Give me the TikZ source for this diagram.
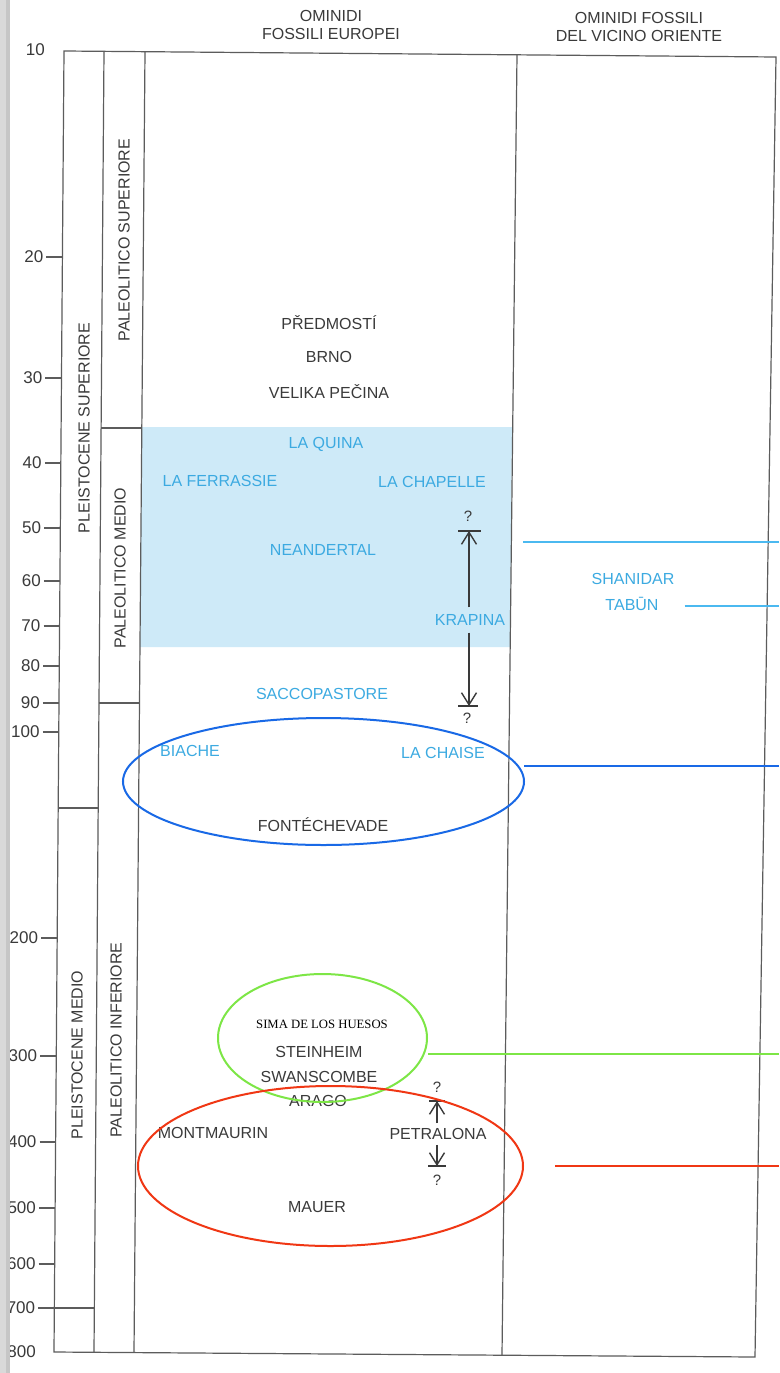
\documentclass[tikz,border=0pt]{standalone}
\usepackage{fontspec}
\setmainfont{Liberation Sans}
\newfontfamily\simafont{Liberation Serif}
\usetikzlibrary{arrows.meta,shapes.geometric}
\definecolor{frame}{HTML}{5C5C5C}
\definecolor{txt}{HTML}{3A3A3A}
\definecolor{bluetxt}{RGB}{60,170,225}
\definecolor{bandblue}{RGB}{206,234,248}
\definecolor{ovblue}{RGB}{25,105,230}
\definecolor{ovgreen}{RGB}{125,230,70}
\definecolor{ovred}{RGB}{240,55,20}
\definecolor{ltblue}{RGB}{75,185,240}
\begin{document}
\begin{tikzpicture}[x=1pt,y=-1pt,
  declare function={xa(\t)=64-10*(\t-50)/1302; xb(\t)=104-10*(\t-50)/1302;
                    xc(\t)=145-11*(\t-50)/1302; xd(\t)=517-15*(\t-50)/1302;},
  lbl/.style={text=txt,font=\fontsize{16}{18}\selectfont,inner sep=1pt},
  blbl/.style={text=bluetxt,font=\fontsize{16}{18}\selectfont,inner sep=1pt},
  numlbl/.style={text=txt,font=\fontsize{17}{17}\selectfont,inner sep=0pt,anchor=east},
  vert/.style={lbl,rotate=90},
  qm/.style={text=txt,font=\fontsize{15}{15}\selectfont,inner sep=0pt},
  fr/.style={draw=frame,line width=1.2pt},
  arr/.style={draw=txt,line width=1.4pt,-{Straight Barb[length=12pt,width=15pt,line width=1.4pt]}},
  barline/.style={draw=txt,line width=1.4pt},
  ov/.style={draw,ellipse,line width=2pt,inner sep=0pt},
  ovline/.style={line width=2pt}
]
\useasboundingbox (0,0) rectangle (779,1373);
\fill[white] (0,0) rectangle (779,1373);

% blue shaded band
\fill[bandblue] ({xc(427)},427) -- (512,427) -- (510,647) -- ({xc(647)},647) -- cycle;

% frame
\draw[fr] (64,51) -- (776,57) -- (755,1357) -- (54,1352) -- cycle;
\draw[fr] (104,51.3) -- (94,1352.3);
\draw[fr] (145,51.7) -- (134,1352.6);
\draw[fr] (517,54.8) -- (502,1355.2);

% column dividers
\draw[fr] ({xa(808)},808) -- ({xb(808)},808);
\draw[fr] ({xb(428)},428) -- ({xc(428)},428);
\draw[fr] ({xb(703)},703) -- ({xc(703)},703);

% scale ticks and labels
\node[numlbl] (t10) at ({xa(50)-19},50) {10};
\foreach \v/\yy in {20/257,30/378,40/463,50/528,60/581,70/626,80/666,90/703,100/732,
                    200/938,300/1056,400/1142,500/1208,600/1264,700/1308}{
  \draw[fr] ({xa(\yy)-16},\yy) -- ({xa(\yy)},\yy);
  \node[numlbl] (t\v) at ({xa(\yy)-19},\yy) {\v};
}
\draw[fr] ({xa(1308)},1308) -- ({xb(1308)},1308);
\node[numlbl] (t800) at ({xa(1352)-18},1352) {800};

% vertical labels
\node[vert] (pls) at (84,428) {PLEISTOCENE SUPERIORE};
\node[vert] (plm) at (77,1055) {PLEISTOCENE MEDIO};
\node[vert] (pas) at (124,240) {PALEOLITICO SUPERIORE};
\node[vert] (pam) at (120,568) {PALEOLITICO MEDIO};
\node[vert] (pai) at (116,1040) {PALEOLITICO INFERIORE};

% headers
\node[lbl,align=center] (h1) at (331,25) {OMINIDI\\FOSSILI EUROPEI};
\node[lbl,align=center] (h2) at (639,27) {OMINIDI FOSSILI\\DEL VICINO ORIENTE};

% European sites
\node[lbl] (pred) at (329,323) {PŘEDMOSTÍ};
\node[lbl] (brno) at (329,357) {BRNO};
\node[lbl] (veli) at (329,392) {VELIKA PEČINA};
\node[blbl] (quina) at (326,444) {LA QUINA};
\node[blbl] (ferr) at (220,481) {LA FERRASSIE};
\node[blbl] (chap) at (432,482) {LA CHAPELLE};
\node[blbl] (nean) at (323,550) {NEANDERTAL};
\node[blbl] (krap) at (470,620) {KRAPINA};
\node[blbl] (sacc) at (322,694) {SACCOPASTORE};
\node[blbl] (biac) at (190,751) {BIACHE};
\node[blbl] (chai) at (443,753) {LA CHAISE};
\node[lbl] (font) at (323,825) {FONTÉCHEVADE};
\node[text=black,font=\simafont\fontsize{12.7}{13}\selectfont,inner sep=1pt] (sima) at (322,1024) {SIMA DE LOS HUESOS};
\node[lbl] (stei) at (319,1052) {STEINHEIM};
\node[lbl] (swan) at (319,1077) {SWANSCOMBE};
\node[lbl] (arag) at (318,1101) {ARAGO};
\node[lbl] (mont) at (213,1133) {MONTMAURIN};
\node[lbl] (petr) at (438,1134) {PETRALONA};
\node[lbl] (maue) at (317,1207) {MAUER};

% Near East sites
\node[blbl] (shan) at (633,579) {SHANIDAR};
\node[blbl] (tabu) at (632,604) {TABŪN};

% Krapina range
\coordinate (kb1) at (469,531);
\coordinate (kb2) at (469,706);
\draw[barline] ([xshift=-11pt]kb1) -- ([xshift=12pt]kb1);
\draw[barline] ([xshift=-11pt]kb2) -- ([xshift=9pt]kb2);
\draw[arr] ([xshift=-1pt,yshift=6pt]krap.north) -- (kb1);
\draw[arr] ([xshift=-1pt,yshift=-6pt]krap.south) -- (kb2);
\node[qm] (kq1) at (468,516) {?};
\node[qm] (kq2) at (467,718) {?};

% Petralona range
\coordinate (pb1) at (437,1101);
\coordinate (pb2) at (437,1166);
\draw[barline] ([xshift=-8pt]pb1) -- ([xshift=8pt]pb1);
\draw[barline] ([xshift=-9pt]pb2) -- ([xshift=9pt]pb2);
\draw[arr] ([xshift=-1pt,yshift=4pt]petr.north) -- (pb1);
\draw[arr] ([xshift=-1pt,yshift=-4pt]petr.south) -- (pb2);
\node[qm] (pq1) at (437,1087) {?};
\node[qm] (pq2) at (437,1180) {?};

% light blue markers
\coordinate (lb1s) at (523,542);
\coordinate (lb1e) at (779,542);
\draw[ltblue,ovline] (lb1s) -- (lb1e);
\coordinate (lb2e) at (779,606);
\draw[ltblue,ovline] ([xshift=25pt,yshift=-2pt]tabu.east) -- (lb2e);

% overlay ellipses and lines
\node[ov,draw=ovblue,minimum width=401pt,minimum height=127pt] (eb) at (323.5,781.5) {};
\coordinate (ebs) at (524,766);
\coordinate (ebe) at (779,766);
\draw[ovblue,ovline] (ebs) -- (ebe);

\node[ov,draw=ovgreen,minimum width=209pt,minimum height=128pt] (eg) at (322.5,1038) {};
\coordinate (egs) at (428,1054);
\coordinate (ege) at (779,1054);
\draw[ovgreen,ovline] (egs) -- (ege);

\node[ov,draw=ovred,minimum width=385pt,minimum height=160pt] (er) at (330.5,1166) {};
\coordinate (ers) at (555,1166);
\coordinate (ere) at (779,1166);
\draw[ovred,ovline] (ers) -- (ere);

% scanned left edge
\fill[gray!30] (0,0) rectangle (6,1373);
\fill[gray!45] (6,0) rectangle (10,1373);
\end{tikzpicture}
\end{document}
